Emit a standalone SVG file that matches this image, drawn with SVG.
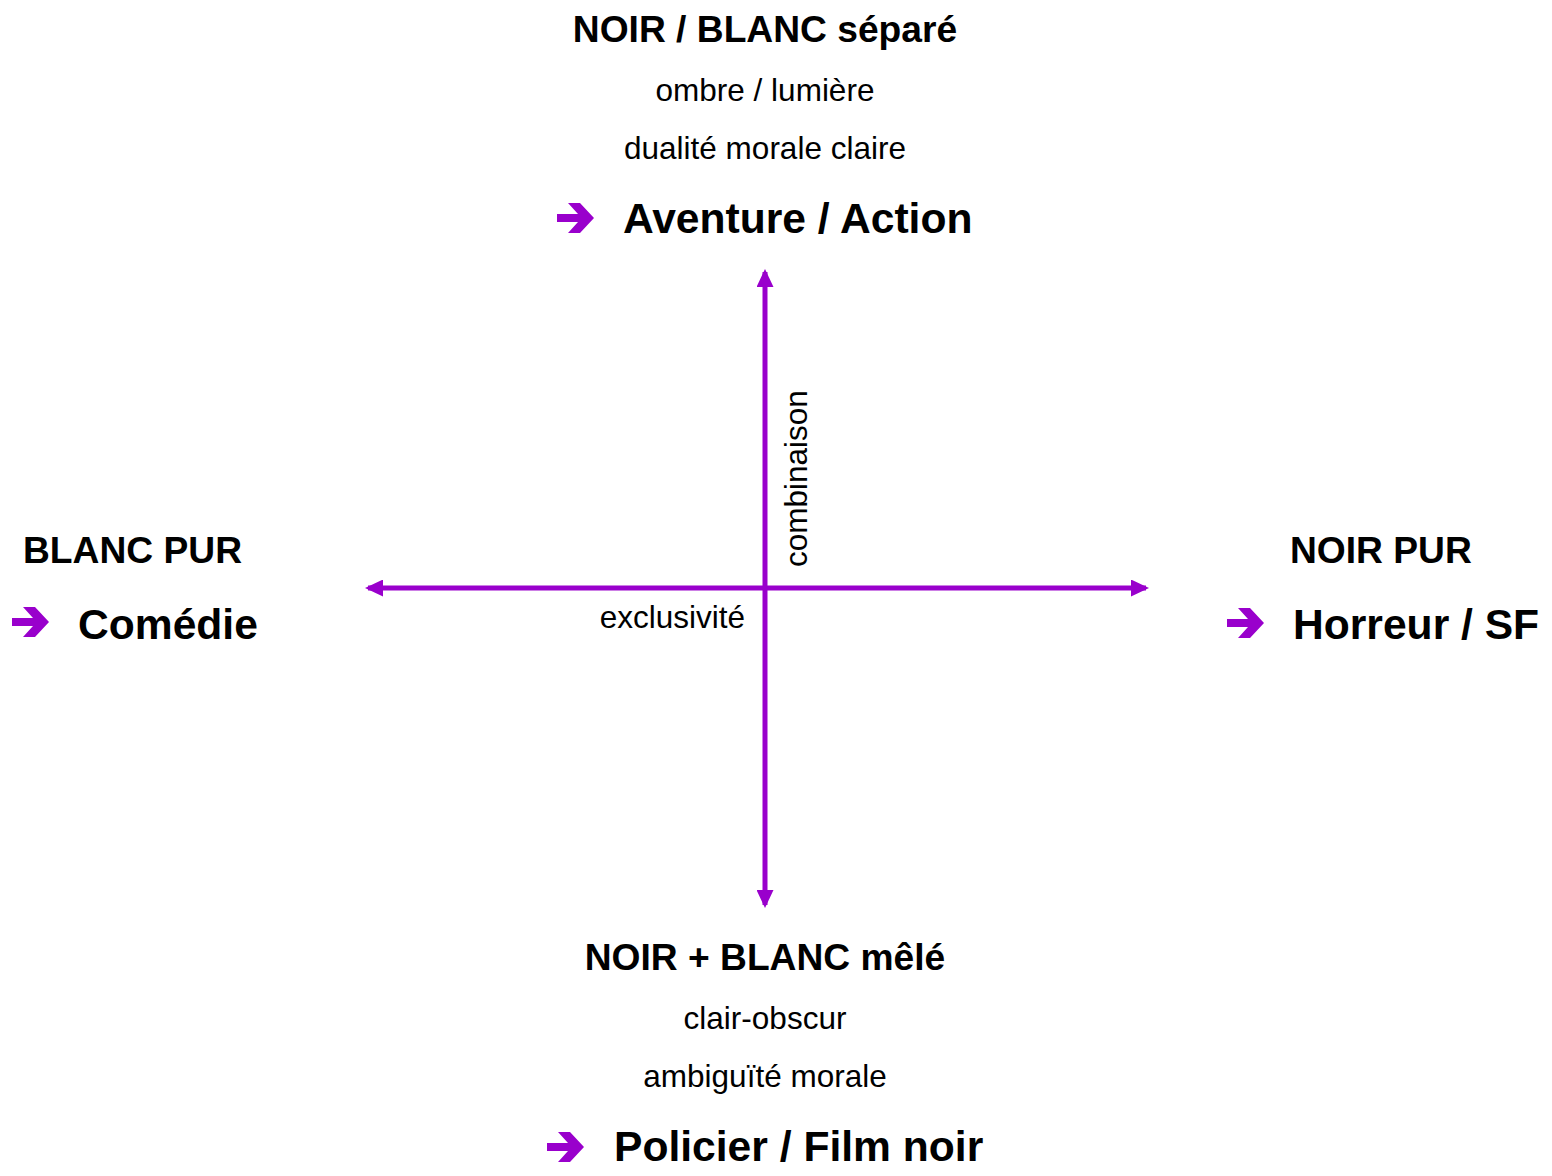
<svg xmlns="http://www.w3.org/2000/svg" width="1552" height="1176" viewBox="0 0 1552 1176">
<defs>
<style>
text{font-family:"Liberation Sans",Arial,sans-serif;fill:#000}
.h{font-weight:bold;font-size:37.2px}
.g{font-weight:bold;font-size:42.6px}
.r{font-size:31.5px}
.c{text-anchor:middle}
.axis{stroke:#9900CC;stroke-width:5;fill:none}
.icon{fill:#9900CC}
</style>
<marker id="ah" viewBox="0 0 18 17" refX="15" refY="8.5" markerWidth="18" markerHeight="17" markerUnits="userSpaceOnUse" orient="auto">
<path d="M0,0 L18,8.5 L0,17 Z" fill="#9900CC"/>
</marker>
<symbol id="arr" viewBox="0 0 37 30" width="37" height="30">
<path d="M0,11 H21 L11,0 H23 L37,15 L23,30 H11 L21,19 H0 Z"/>
</symbol>
</defs>
<rect width="1552" height="1176" fill="#fff"/>
<g id="connectors">
<line class="axis" x1="765" y1="588" x2="368" y2="588" marker-end="url(#ah)"/>
<line class="axis" x1="765" y1="588" x2="1146" y2="588" marker-end="url(#ah)"/>
<line class="axis" x1="765" y1="588" x2="765" y2="272" marker-end="url(#ah)"/>
<line class="axis" x1="765" y1="588" x2="765" y2="905" marker-end="url(#ah)"/>
<text class="r" text-anchor="end" x="745" y="628">exclusivité</text>
<text class="r" transform="translate(807,567) rotate(-90)">combinaison</text>
</g>
<g id="top">
<text class="h c" x="765" y="42">NOIR / BLANC séparé</text>
<text class="r c" x="765" y="101">ombre / lumière</text>
<text class="r c" x="765" y="159">dualité morale claire</text>
<use href="#arr" class="icon" x="557" y="203"/>
<text class="g" x="623" y="233">Aventure / Action</text>
</g>
<g id="left">
<text class="h" x="23" y="563">BLANC PUR</text>
<use href="#arr" class="icon" x="12" y="607"/>
<text class="g" x="78" y="639">Comédie</text>
</g>
<g id="right">
<text class="h" x="1290" y="563">NOIR PUR</text>
<use href="#arr" class="icon" x="1227" y="608"/>
<text class="g" x="1293" y="639">Horreur / SF</text>
</g>
<g id="bottom">
<text class="h c" x="765" y="970">NOIR + BLANC mêlé</text>
<text class="r c" x="765" y="1029">clair-obscur</text>
<text class="r c" x="765" y="1087">ambiguïté morale</text>
<use href="#arr" class="icon" x="547" y="1132"/>
<text class="g" x="614" y="1161">Policier / Film noir</text>
</g>
</svg>
